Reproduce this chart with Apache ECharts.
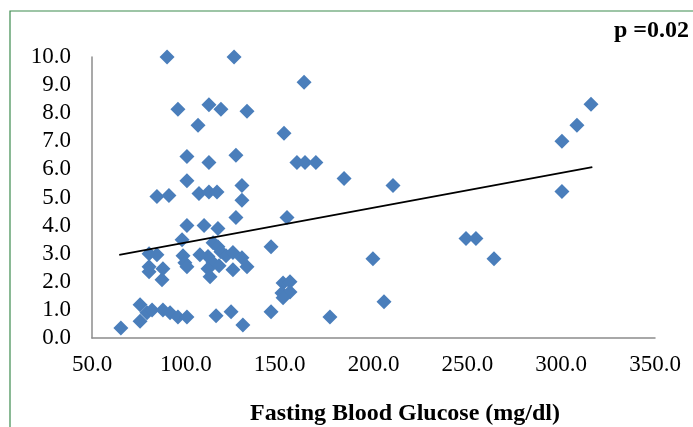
<!DOCTYPE html>
<html>
<head>
<meta charset="utf-8">
<script src="https://cdn.jsdelivr.net/npm/echarts@6/dist/echarts.min.js"></script>
<style>
html,body{margin:0;padding:0;background:#fff;}
#c{width:693px;height:427px;}
</style>
</head>
<body>
<div id="c"></div>
<script>
// Fasting blood glucose (mg/dl)
const glucose = [90.0,125.7,163.0,95.8,112.3,118.7,132.6,106.5,152.3,100.6,112.3,126.7,159.2,163.5,169.3,184.3,210.4,100.6,129.9,84.6,91.0,107.0,112.3,116.6,129.9,126.7,153.9,100.6,109.7,117.1,98.0,145.4,114.5,117.1,118.7,121.4,111.8,114.5,117.7,111.8,112.9,80.4,84.6,80.4,80.4,87.8,87.3,98.5,99.5,100.6,107.5,125.1,129.9,132.6,125.1,151.8,155.5,151.2,155.5,151.8,65.4,75.6,75.6,79.3,82.0,87.8,91.6,95.8,100.6,116.1,124.1,130.4,145.4,176.8,249.3,254.6,199.7,264.2,205.6,300.4,300.4,308.4,315.9];
// y values
const yValues = [10.0,10.0,9.1,8.14,8.3,8.14,8.07,7.57,7.29,6.46,6.25,6.5,6.25,6.25,6.25,5.68,5.43,5.6,5.43,5.04,5.07,5.14,5.2,5.2,4.9,4.29,4.29,4.0,4.0,3.9,3.5,3.25,3.39,3.25,3.07,2.93,2.9,2.68,2.57,2.46,2.18,3.0,2.96,2.54,2.36,2.46,2.07,2.93,2.68,2.54,2.96,3.04,2.86,2.54,2.43,1.96,2.0,1.6,1.64,1.43,0.36,1.18,0.6,0.9,1.0,1.0,0.9,0.75,0.75,0.79,0.93,0.46,0.93,0.75,3.54,3.54,2.82,2.82,1.29,7.0,5.21,7.57,8.32];
// Linear trend line end points
const trendX = [64.5, 316.6];
const trendY = [2.96, 6.08];
const xTicks = [50,100,150,200,250,300,350];
const yTicks = [0,1,2,3,4,5,6,7,8,9,10];
const pLabel = 'p =0.02';
const xTitle = 'Fasting Blood Glucose (mg/dl)';

const pts = glucose.map((g,i)=>[g,yValues[i]]);
const trend = trendX.map((x,i)=>[x,trendY[i]]);
const serif = '"Liberation Serif","Times New Roman",serif';

const chart = echarts.init(document.getElementById('c'));
chart.setOption({
  animation:false,
  backgroundColor:'#fff',
  grid:{left:92,right:38,top:57,bottom:89},
  xAxis:{type:'value',min:xTicks[0],max:xTicks[xTicks.length-1],interval:50,
    axisLine:{show:true,lineStyle:{color:'#8c8c8c',width:1.5}},
    axisTick:{show:false},splitLine:{show:false},
    axisLabel:{formatter:v=>v.toFixed(1),fontFamily:serif,fontSize:23,color:'#000',margin:15}},
  yAxis:{type:'value',min:yTicks[0],max:yTicks[yTicks.length-1],interval:1,
    axisLine:{show:true,lineStyle:{color:'#8c8c8c',width:1.5}},
    axisTick:{show:false},splitLine:{show:false},
    axisLabel:{formatter:v=>v.toFixed(1),fontFamily:serif,fontSize:23,color:'#000',margin:21}},
  series:[
    {type:'scatter',data:pts,symbol:'diamond',symbolSize:15,clip:false,
      itemStyle:{color:'#4a7ebb',opacity:1}},
    {type:'line',data:trend,symbol:'none',lineStyle:{color:'#000',width:1.8},z:5}
  ],
  graphic:[
    {type:'rect',shape:{x:10,y:11,width:720,height:460},style:{fill:'none',stroke:'#3d8b4f',lineWidth:1.2},silent:true},
    {type:'text',left:614,top:19,style:{text:pLabel,font:'bold 24px '+serif,fill:'#000'}},
    {type:'text',left:250,top:402,style:{text:xTitle,font:'bold 24px '+serif,fill:'#000'}}
  ]
});
</script>
</body>
</html>
